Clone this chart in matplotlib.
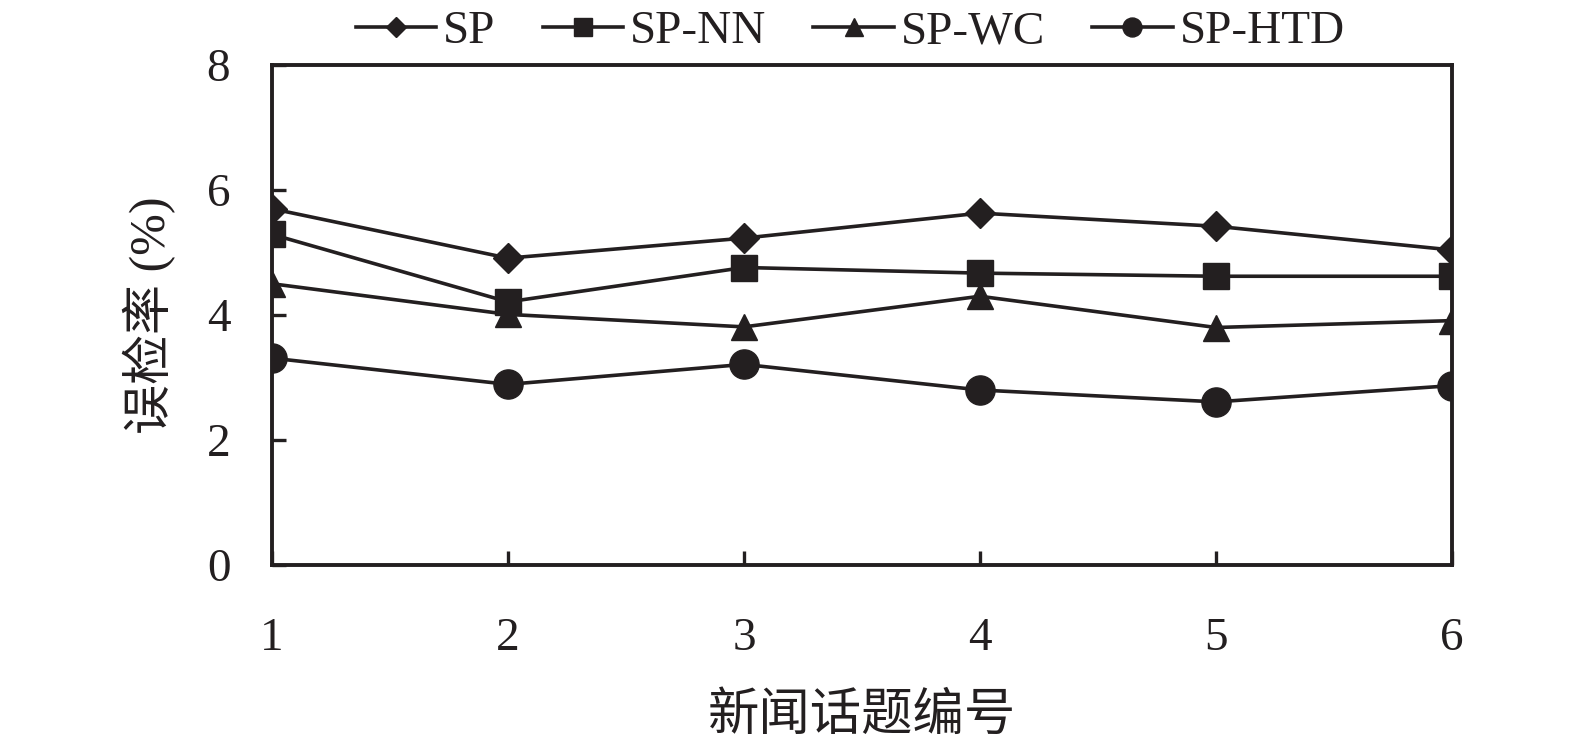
import matplotlib
matplotlib.use("Agg")
import matplotlib.pyplot as plt

topics = [1, 2, 3, 4, 5, 6]
sp = [5.70, 4.91, 5.23, 5.63, 5.42, 5.04]
sp_nn = [5.29, 4.21, 4.76, 4.67, 4.62, 4.62]
sp_wc = [4.50, 4.01, 3.81, 4.30, 3.80, 3.91]
sp_htd = [3.31, 2.89, 3.21, 2.80, 2.61, 2.87]
yticks = [0, 2, 4, 6, 8]

series = [
    ("SP", sp, "D", 15),
    ("SP-NN", sp_nn, "s", 19),
    ("SP-WC", sp_wc, "^", 19),
    ("SP-HTD", sp_htd, "o", 21),
]

ink = "#231f20"
serif = ["Liberation Serif", "DejaVu Serif"]
cjk = ["Liberation Serif", "Noto Sans CJK SC"]

fig = plt.figure(figsize=(15.75, 7.4), dpi=100)
ax = fig.add_axes([272/1575, 1-565/740, (1452-272)/1575, 500/740])

for name, vals, mk, ms in series:
    ax.plot(topics, vals, color=ink, lw=2.6, marker=mk, ms=ms,
            mfc=ink, mec=ink, mew=1, label=name)

ax.set_xlim(1, 6)
ax.set_ylim(0, 8)
ax.set_xticks(topics)
ax.set_yticks(yticks)
for s in ax.spines.values():
    s.set_linewidth(2.8)
    s.set_color(ink)
ax.tick_params(axis="both", direction="in", length=10, width=2.4, color=ink,
               labelsize=34, labelcolor=ink)
ax.tick_params(axis="x", pad=38)
ax.tick_params(axis="y", pad=30)
for lab in ax.get_xticklabels() + ax.get_yticklabels():
    lab.set_family(serif)

ax.set_xlabel("新闻话题编号", family=cjk, fontsize=37, color=ink, labelpad=24)
ax.set_ylabel("误检率 (%)", family=cjk, fontsize=36, color=ink, labelpad=22)

leg = ax.legend(loc="lower center", bbox_to_anchor=(0.49, 1.0), ncol=4,
                frameon=False, prop={"family": serif, "size": 34},
                handlelength=1.7, handletextpad=0.15, columnspacing=1.0,
                markerscale=0.65, borderaxespad=0.0, borderpad=0.25)
for t in leg.get_texts():
    t.set_color(ink)

fig.savefig("out.png", dpi=100)
